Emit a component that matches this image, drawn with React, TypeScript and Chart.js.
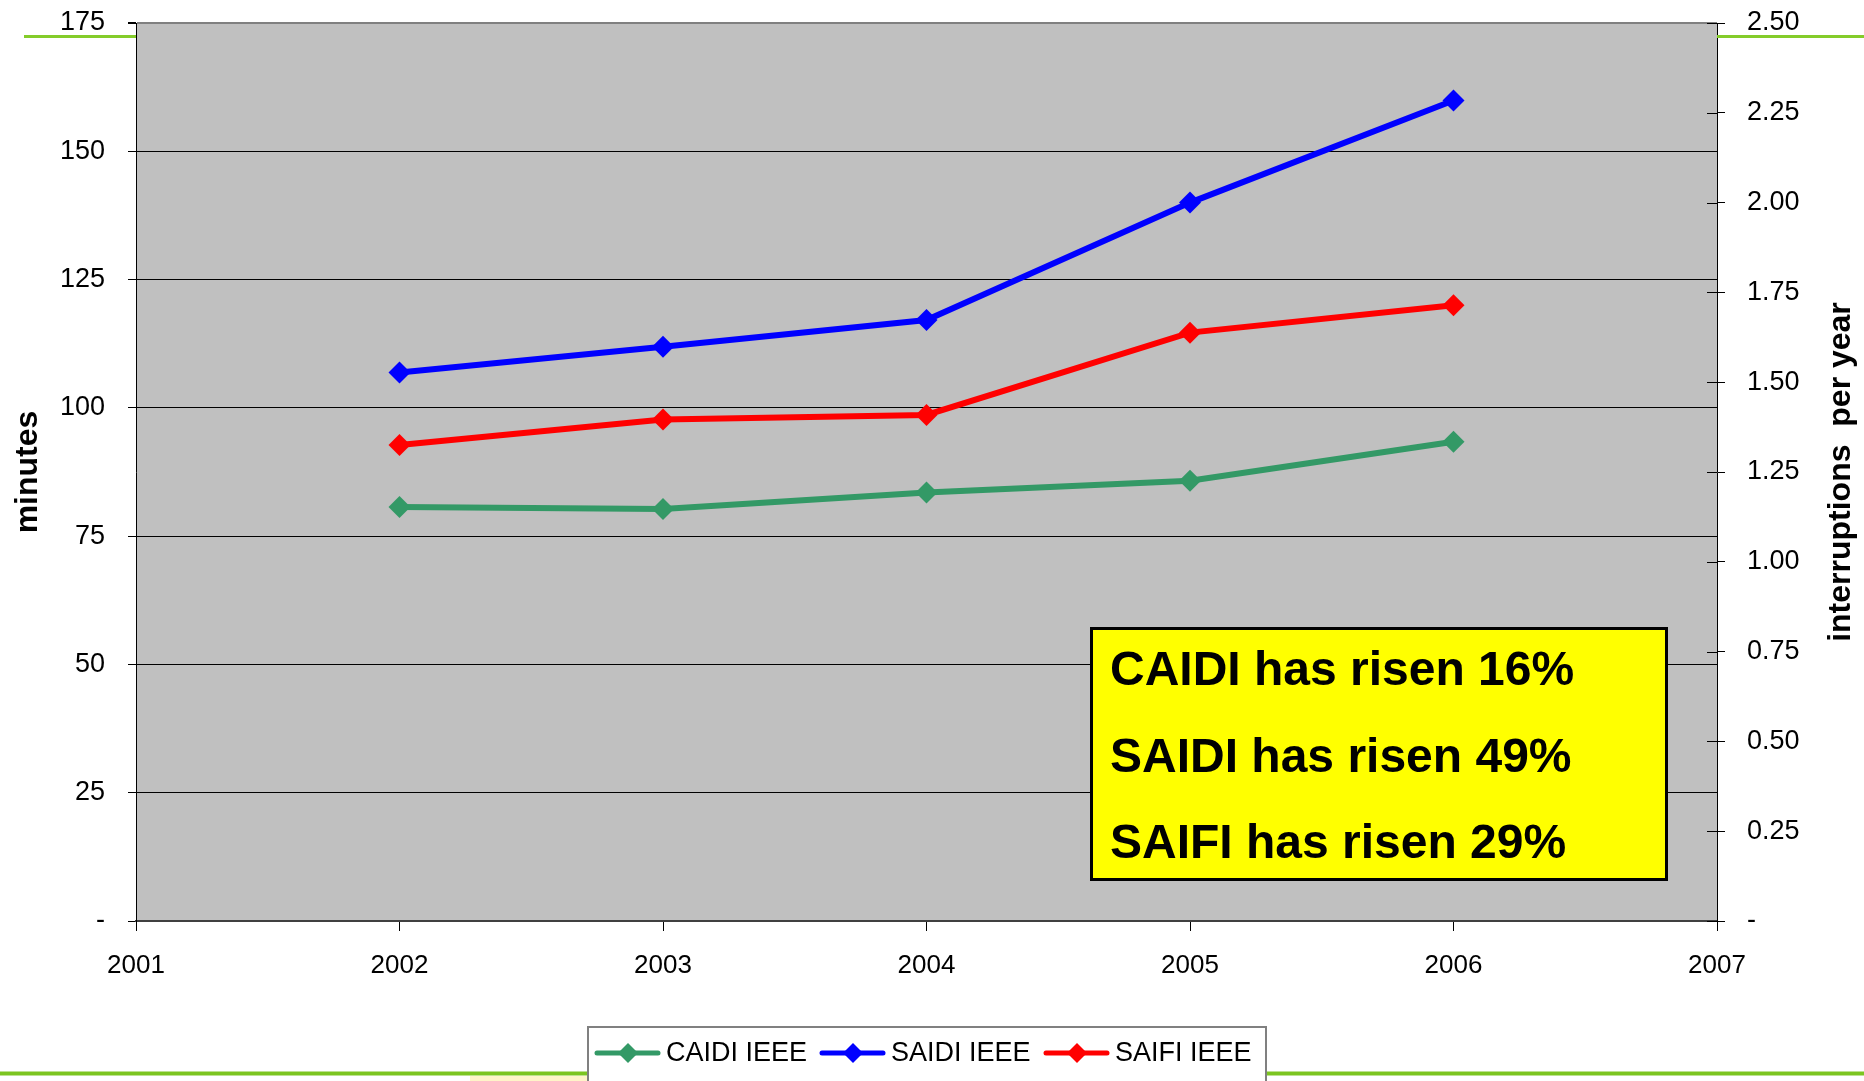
import React, { useEffect, useRef } from 'react';
import { Chart, registerables } from 'chart.js';

Chart.register(...registerables);

// ---- data ----
const years = [2002, 2003, 2004, 2005, 2006];
const caidi = [80.7, 80.3, 83.5, 85.8, 93.4];
const saidi = [106.9, 111.9, 117.1, 140.0, 159.9];
const saifi = [1.325, 1.396, 1.409, 1.638, 1.714];
const seriesNames = ['CAIDI IEEE', 'SAIDI IEEE', 'SAIFI IEEE'];
const seriesColors = ['#339966', '#0000FF', '#FF0000'];
const boxLines = ['CAIDI has risen 16%', 'SAIDI has risen 49%', 'SAIFI has risen 29%'];
const leftTitle = 'minutes';
const rightTitle = 'interruptions  per year';
const xMin = 2001;
const xMax = 2007;
const leftMax = 175;
const leftStep = 25;
const rightMax = 2.5;
const rightStep = 0.25;

const FONT = '"Liberation Sans", Arial, Helvetica, sans-serif';
const W = 1864;
const H = 1081;

function diamond(ctx: CanvasRenderingContext2D, x: number, y: number, r: number, color: string) {
  ctx.beginPath();
  ctx.moveTo(x, y - r);
  ctx.lineTo(x + r, y);
  ctx.lineTo(x, y + r);
  ctx.lineTo(x - r, y);
  ctx.closePath();
  ctx.fillStyle = color;
  ctx.fill();
}

const decor = {
  id: 'decor',
  beforeDraw(chart: any) {
    const { ctx, chartArea: a } = chart;
    ctx.save();
    ctx.fillStyle = '#C0C0C0';
    ctx.fillRect(a.left, a.top, a.right - a.left, a.bottom - a.top);
    ctx.restore();
  },
  afterDraw(chart: any) {
    const { ctx, chartArea: a, scales } = chart;
    ctx.save();

    // inner halves of right axis tick marks
    const y1 = scales.y1;
    ctx.strokeStyle = '#000';
    ctx.lineWidth = 1;
    y1.ticks.forEach((t: any) => {
      const py = Math.round(y1.getPixelForValue(t.value)) + 0.5;
      ctx.beginPath();
      ctx.moveTo(a.right - 10, py);
      ctx.lineTo(a.right, py);
      ctx.stroke();
    });

    // green page rules
    ctx.strokeStyle = '#84CC2A';
    ctx.lineWidth = 3;
    ctx.beginPath();
    ctx.moveTo(24, 36.5);
    ctx.lineTo(a.left, 36.5);
    ctx.moveTo(a.right, 36.5);
    ctx.lineTo(W, 36.5);
    ctx.stroke();
    ctx.fillStyle = '#FFF4C8';
    ctx.fillRect(470, 1076, 118, 6);
    ctx.strokeStyle = '#7CC520';
    ctx.lineWidth = 4;
    ctx.beginPath();
    ctx.moveTo(0, 1073.5);
    ctx.lineTo(W, 1073.5);
    ctx.stroke();

    // axis titles
    ctx.fillStyle = '#000';
    ctx.font = `bold 32px ${FONT}`;
    ctx.textAlign = 'center';
    ctx.textBaseline = 'middle';
    const cy = (a.top + a.bottom) / 2;
    ctx.save();
    ctx.translate(28, cy);
    ctx.rotate(-Math.PI / 2);
    ctx.fillText(leftTitle, 0, 0);
    ctx.restore();
    ctx.save();
    ctx.translate(1841, cy);
    ctx.rotate(-Math.PI / 2);
    ctx.fillText(rightTitle, 0, 0);
    ctx.restore();

    // yellow annotation box
    ctx.fillStyle = '#FFFF00';
    ctx.fillRect(1091, 628, 576, 252);
    ctx.strokeStyle = '#000';
    ctx.lineWidth = 3;
    ctx.strokeRect(1091.5, 628.5, 575, 251);
    ctx.fillStyle = '#000';
    ctx.font = `bold 48px ${FONT}`;
    ctx.textAlign = 'left';
    ctx.textBaseline = 'alphabetic';
    const baselines = [685, 772, 858];
    boxLines.forEach((s, i) => ctx.fillText(s, 1110, baselines[i]));

    // legend
    ctx.fillStyle = '#FFFFFF';
    ctx.fillRect(588, 1027, 678, 70);
    ctx.strokeStyle = '#808080';
    ctx.lineWidth = 2;
    ctx.strokeRect(588, 1027, 678, 70);
    const ly = 1053;
    const lineStarts = [595, 820, 1044];
    ctx.font = `27px ${FONT}`;
    ctx.textBaseline = 'middle';
    seriesNames.forEach((name, i) => {
      const x0 = lineStarts[i];
      ctx.strokeStyle = seriesColors[i];
      ctx.lineWidth = 5;
      ctx.lineCap = 'round';
      ctx.beginPath();
      ctx.moveTo(x0 + 2, ly);
      ctx.lineTo(x0 + 63, ly);
      ctx.stroke();
      diamond(ctx, x0 + 33, ly, 10, seriesColors[i]);
      ctx.fillStyle = '#000';
      ctx.fillText(name, x0 + 71, ly + 1);
    });

    ctx.restore();
  },
};

export default function App() {
  const ref = useRef<HTMLCanvasElement>(null);

  useEffect(() => {
    if (!ref.current) return;
    const mk = (vals: number[]) => years.map((x, i) => ({ x, y: vals[i] }));
    const series = [caidi, saidi, saifi];
    const axes = ['y', 'y', 'y1'];
    const chart = new Chart(ref.current, {
      type: 'line',
      data: {
        datasets: seriesNames.map((name, i) => ({
          label: name,
          data: mk(series[i]),
          yAxisID: axes[i],
          borderColor: seriesColors[i],
          backgroundColor: seriesColors[i],
          borderWidth: 6,
          pointStyle: 'rectRot',
          pointRadius: 11,
          pointBorderWidth: 0,
          pointBackgroundColor: seriesColors[i],
          tension: 0,
          fill: false,
        })),
      },
      options: {
        responsive: false,
        animation: false,
        devicePixelRatio: 1,
        layout: { padding: { top: 23, left: 0, right: 0, bottom: 0 } },
        plugins: { legend: { display: false }, tooltip: { enabled: false } },
        scales: {
          x: {
            type: 'linear',
            position: 'bottom',
            min: xMin,
            max: xMax,
            ticks: {
              stepSize: 1,
              autoSkip: false,
              maxRotation: 0,
              color: '#000',
              padding: 19,
              font: { family: FONT, size: 26 },
              callback: (v: any) => String(v),
            },
            grid: { drawOnChartArea: false, drawTicks: true, tickLength: 10, color: '#000' },
            border: { display: true, color: '#404040', width: 2 },
            afterFit: (s: any) => { s.height = 160; s.paddingLeft = 0; s.paddingRight = 0; },
          },
          y: {
            position: 'left',
            min: 0,
            max: leftMax,
            ticks: {
              stepSize: leftStep,
              color: '#000',
              padding: 23,
              font: { family: FONT, size: 27 },
              callback: (v: any) => (v === 0 ? '-' : String(v)),
            },
            grid: {
              color: (c: any) => (c.tick && c.tick.value === leftMax ? '#808080' : '#000'),
              lineWidth: (c: any) => (c.tick && c.tick.value === leftMax ? 2 : 1),
              tickColor: '#000',
              tickLength: 8,
            },
            border: { display: true, color: '#000', width: 1 },
            afterFit: (s: any) => { s.width = 136; s.paddingTop = 0; s.paddingBottom = 0; },
          },
          y1: {
            position: 'right',
            min: 0,
            max: rightMax,
            ticks: {
              stepSize: rightStep,
              color: '#000',
              padding: 22,
              font: { family: FONT, size: 27 },
              callback: (v: any) => (v === 0 ? '-' : Number(v).toFixed(2)),
            },
            grid: { drawOnChartArea: false, tickLength: 8, color: '#000' },
            border: { display: true, color: '#000', width: 1 },
            afterFit: (s: any) => { s.width = 147; s.paddingTop = 0; s.paddingBottom = 0; },
          },
        },
      },
      plugins: [decor],
    });
    return () => chart.destroy();
  }, []);

  return (
    <div style={{ position: 'absolute', left: 0, top: 0, width: W, height: H, background: '#fff' }}>
      <canvas ref={ref} width={W} height={H} style={{ display: 'block', width: W, height: H }} />
    </div>
  );
}
